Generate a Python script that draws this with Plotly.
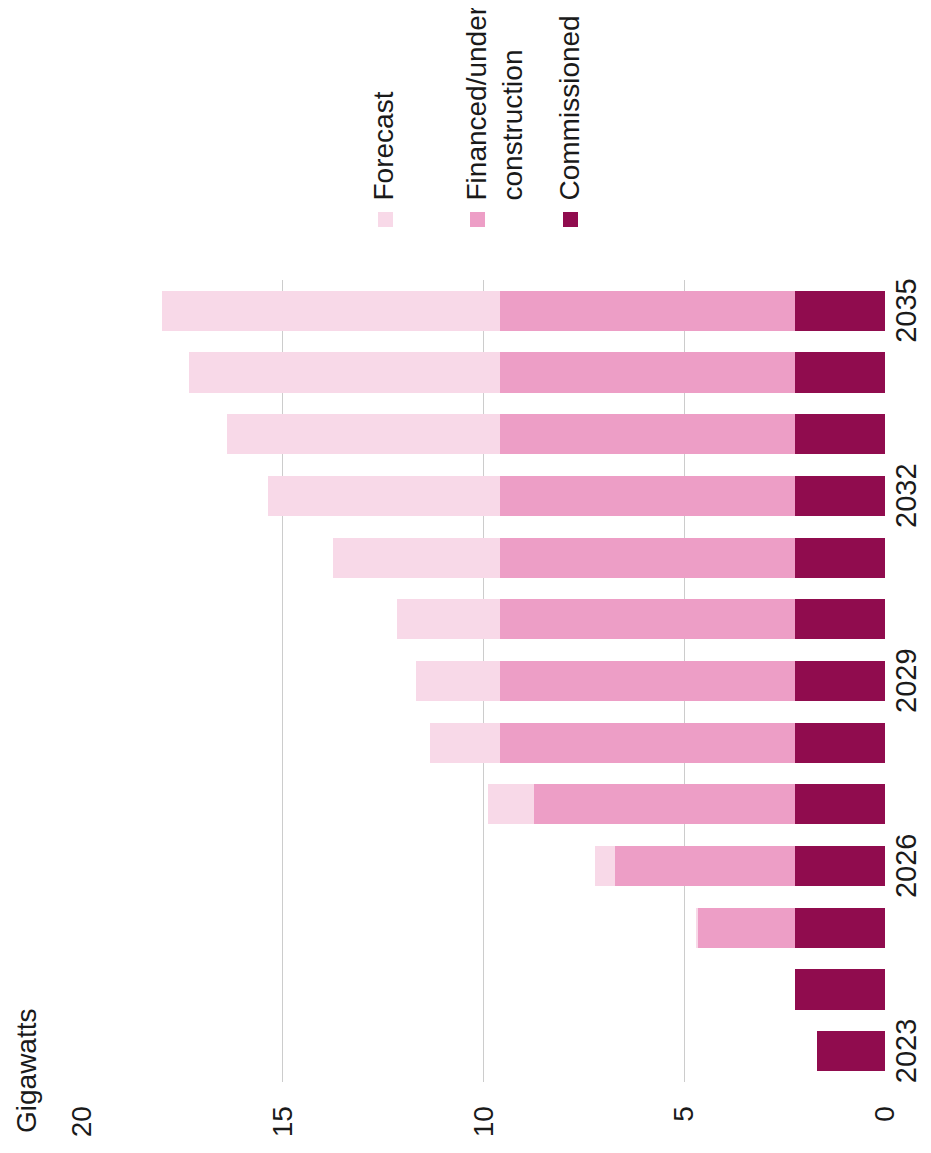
import plotly.graph_objects as go

years = [2023, 2024, 2025, 2026, 2027, 2028, 2029, 2030, 2031, 2032, 2033, 2034, 2035]
commissioned = [1.7, 2.25, 2.25, 2.25, 2.25, 2.25, 2.25, 2.25, 2.25, 2.25, 2.25, 2.25, 2.25]
financed = [0, 0, 2.41, 4.48, 6.48, 7.35, 7.35, 7.35, 7.35, 7.35, 7.35, 7.35, 7.35]
forecast = [0, 0, 0.05, 0.5, 1.17, 1.74, 2.07, 2.55, 4.15, 5.76, 6.78, 7.73, 8.4]
year_ticks = [2023, 2026, 2029, 2032, 2035]
value_ticks = [0, 5, 10, 15, 20]

C_COM = "#900C4E"
C_FIN = "#ED9EC6"
C_FOR = "#F8D9E8"
FONT = "Liberation Sans, Arial, sans-serif"
TXT = "#1a1a1a"

fig = go.Figure()
fig.add_trace(go.Bar(y=years, x=commissioned, orientation="h", marker=dict(color=C_COM, line=dict(width=0)), name="Commissioned"))
fig.add_trace(go.Bar(y=years, x=financed, orientation="h", marker=dict(color=C_FIN, line=dict(width=0)), name="Financed/under construction"))
fig.add_trace(go.Bar(y=years, x=forecast, orientation="h", marker=dict(color=C_FOR, line=dict(width=0)), name="Forecast"))

# page body has an 8px margin, so the figure is sized to fit the window without scrollbars
fig.update_layout(
    width=915, height=1137,
    margin=dict(l=74, r=38, t=272, b=63),
    barmode="stack", bargap=0.35,
    showlegend=False,
    plot_bgcolor="white", paper_bgcolor="white",
    font=dict(family=FONT, size=28, color=TXT),
)
fig.update_xaxes(
    range=[20, 0], tickvals=value_ticks, tickangle=-90, automargin=False,
    showgrid=True, gridcolor="#cccccc", gridwidth=1, zeroline=False, showline=False,
    ticks="outside", ticklen=12, tickcolor="rgba(0,0,0,0)",
    tickfont=dict(family=FONT, size=28, color=TXT),
)
fig.update_yaxes(
    range=[2022.5, 2035.5], tickvals=year_ticks, side="right", automargin=False,
    showgrid=False, zeroline=False, showline=False, showticklabels=False,
)

def px2x(px):
    return (px - 82) / 803.0

def py2y(py):
    return (1082 - py) / 802.0

# year labels (rotated), placed at their category positions
for yr in year_ticks:
    fig.add_annotation(text=str(yr), xref="paper", yref="y", x=px2x(906), y=yr,
                       xanchor="center", yanchor="middle", textangle=-90, showarrow=False,
                       borderpad=0, font=dict(family=FONT, size=29, color=TXT))

# axis title
fig.add_annotation(text="Gigawatts", xref="paper", yref="paper", x=px2x(26), y=py2y(1071),
                   xanchor="center", yanchor="middle", textangle=-90, showarrow=False,
                   font=dict(family=FONT, size=28, color=TXT))

# legend (rotated)
legend_items = [("Forecast", C_FOR, 383, 378), ("Financed/under<br>construction", C_FIN, 494, 470), ("Commissioned", C_COM, 569, 563)]
for label, col, cx, sx in legend_items:
    fig.add_annotation(text=label, xref="paper", yref="paper", x=px2x(cx), y=py2y(203),
                       xanchor="center", yanchor="bottom", textangle=-90, align="left",
                       showarrow=False, font=dict(family=FONT, size=28, color=TXT))
    fig.add_shape(type="rect", xref="paper", yref="paper",
                  x0=px2x(sx), x1=px2x(sx + 15), y0=py2y(227), y1=py2y(212),
                  fillcolor=col, line=dict(width=0))

fig.write_html("out.html")
